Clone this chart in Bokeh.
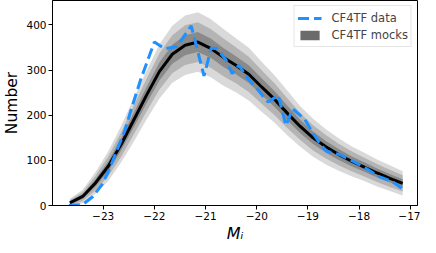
from bokeh.plotting import figure
from bokeh.models import Range1d, FixedTicker, Legend, LegendItem, ColumnDataSource
from bokeh.embed import file_html
from bokeh.resources import INLINE

# Mock median and percentile bands
mock_x = [-23.65, -23.4, -23.15, -22.9, -22.65, -22.4, -22.15, -21.9, -21.65, -21.4,
          -21.15, -20.9, -20.65, -20.4, -20.15, -19.9, -19.65, -19.4, -19.15, -18.9,
          -18.65, -18.4, -18.15, -17.9, -17.65, -17.4, -17.15]
mock_median = [6, 20, 50, 87, 135, 190, 245, 297, 335, 355,
               362, 348, 328, 310, 290, 262, 235, 204, 175, 150,
               130, 113, 98, 85, 72, 60, 49]
dark_lo = [3, 15, 42, 76, 122, 174, 227, 277, 314, 333,
           340, 327, 307, 290, 271, 244, 218, 188, 160, 136,
           117, 101, 87, 75, 62, 51, 40]
dark_hi = [9, 25, 58, 98, 149, 206, 263, 317, 356, 377,
           384, 370, 349, 330, 310, 281, 253, 221, 190, 164,
           143, 125, 109, 96, 82, 70, 58]
mid_lo = [0, 10, 34, 65, 108, 158, 209, 257, 293, 311,
          318, 305, 286, 270, 251, 225, 200, 171, 145, 122,
          104, 89, 76, 64, 52, 41, 31]
mid_hi = [12, 30, 66, 109, 162, 222, 281, 337, 377, 399,
          406, 391, 370, 350, 329, 299, 270, 237, 205, 178,
          156, 137, 120, 106, 92, 79, 67]
light_lo = [0, 5, 26, 54, 95, 142, 191, 237, 272, 289,
            296, 284, 265, 250, 232, 207, 183, 155, 130, 108,
            91, 77, 65, 54, 42, 32, 22]
light_hi = [15, 35, 74, 120, 176, 238, 299, 357, 398, 421,
            428, 413, 391, 370, 349, 318, 288, 254, 220, 192,
            169, 149, 131, 117, 102, 89, 76]

# CF4TF data (blue dashed)
data_x = [-23.67, -23.4, -23.2, -23.03, -22.9, -22.74, -22.58, -22.46, -22.27, -22.0,
          -21.8, -21.56, -21.28, -21.03, -20.89, -20.77, -20.6, -20.48, -20.35, -20.2,
          -19.97, -19.78, -19.58, -19.43, -19.3, -19.07, -18.9, -18.74, -18.63, -18.38,
          -18.12, -17.86, -17.61, -17.35, -17.17]
data_y = [0, 2, 20, 45, 75, 120, 165, 210, 278, 362,
          347, 352, 398, 287, 349, 347, 322, 292, 311, 285,
          255, 229, 244, 177, 214, 192, 160, 133, 120, 113,
          98, 82, 64, 53, 38]

x_ticks = [-23, -22, -21, -20, -19, -18, -17]
y_ticks = [0, 100, 200, 300, 400]

p = figure(width=420, height=245, output_backend="svg", toolbar_location=None,
           x_range=Range1d(-23.99, -16.86), y_range=Range1d(0, 454),
           min_border_left=40, min_border_right=3, min_border_top=0, min_border_bottom=38)

bands = ColumnDataSource(dict(x=mock_x, m=mock_median, dlo=dark_lo, dhi=dark_hi,
                              mlo=mid_lo, mhi=mid_hi, llo=light_lo, lhi=light_hi))
p.varea(x="x", y1="llo", y2="lhi", source=bands, fill_color="#d9d9d9")
p.varea(x="x", y1="mlo", y2="mhi", source=bands, fill_color="#b4b4b4")
p.varea(x="x", y1="dlo", y2="dhi", source=bands, fill_color="#8a8a8a")
p.line(x="x", y="m", source=bands, line_color="black", line_width=3)

r_data = p.line(data_x, data_y, line_color="#1E90FF", line_width=3, line_dash="11 5")
# zero-area patch only used for the legend swatch
r_mock = p.varea(x="x", y1="m", y2="m", source=bands, fill_color="#6b6b6b")

legend = Legend(items=[LegendItem(label="CF4TF data", renderers=[r_data]),
                       LegendItem(label="CF4TF mocks", renderers=[r_mock])],
                location="top_right")
legend.label_text_font = "DejaVu Sans"
legend.label_text_font_size = "11.5px"
legend.glyph_width = 24
legend.glyph_height = 12
legend.label_height = 17
legend.label_standoff = 10
legend.padding = 3
legend.spacing = 0
legend.margin = 5
legend.border_line_color = "#cccccc"
legend.border_line_width = 1
legend.background_fill_alpha = 0.85
p.add_layout(legend)

p.xgrid.visible = False
p.ygrid.visible = False
p.outline_line_color = "black"
p.outline_line_width = 1

p.xaxis.ticker = FixedTicker(ticks=x_ticks)
p.xaxis.major_label_overrides = {t: "\u2212" + str(abs(t)) for t in x_ticks}
p.yaxis.ticker = FixedTicker(ticks=y_ticks)

for ax in (p.xaxis[0], p.yaxis[0]):
    ax.axis_line_color = "black"
    ax.major_tick_line_color = "black"
    ax.major_tick_out = 4
    ax.major_tick_in = 0
    ax.minor_tick_line_color = None
    ax.major_label_text_font = "DejaVu Sans"
    ax.major_label_text_font_size = "10.5px"
    ax.major_label_text_color = "black"
    ax.major_label_standoff = 2
    ax.axis_label_text_font = "DejaVu Sans"
    ax.axis_label_text_color = "black"
    ax.axis_label_text_font_style = "normal"

p.yaxis.axis_label = "Number"
p.yaxis.axis_label_text_font_size = "15.5px"
p.yaxis.axis_label_standoff = 2
p.xaxis.axis_label = "M\u1d62"
p.xaxis.axis_label_text_font_size = "16px"
p.xaxis.axis_label_text_font_style = "italic"
p.xaxis.axis_label_standoff = 1

open("out.html", "w").write(file_html(p, INLINE))
